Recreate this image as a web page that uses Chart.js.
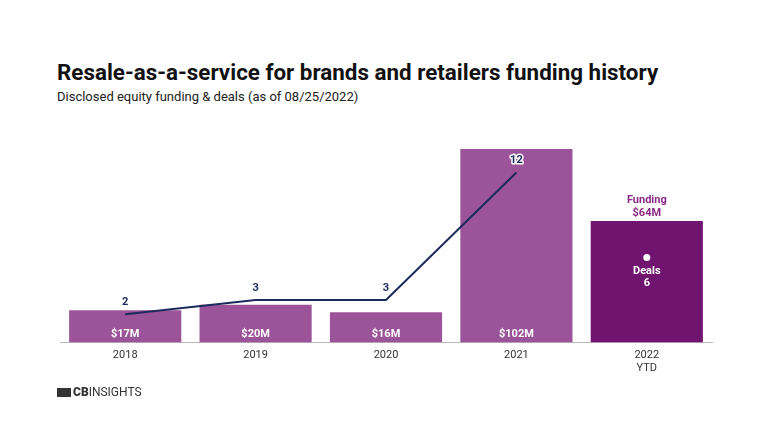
<!DOCTYPE html>
<html>
<head>
<meta charset="utf-8">
<script src="https://cdn.jsdelivr.net/npm/chart.js@4"></script>
<style>
    body { margin: 0; background: #ffffff; font-family: Roboto, sans-serif; }
    #wrap { position: relative; width: 768px; height: 432px; overflow: hidden; }
    #title { position: absolute; left: 57px; top: 59px; font-size: 22.4px; font-weight: 700; color: #111111; white-space: nowrap; }
    #subtitle { position: absolute; left: 57px; top: 89px; font-size: 13px; color: #222222; white-space: nowrap; }
    #logo { position: absolute; left: 57px; top: 385px; font-size: 12px; color: #333333; letter-spacing: 0px; }
    #logo b { font-weight: 900; }
    #logo .box { display: inline-block; width: 14px; height: 9px; background: #333333; margin-right: 2px; vertical-align: -1px; }
    canvas { position: absolute; left: 0; top: 0; }
</style>
</head>
<body>
<div id="wrap">
    <div id="title">Resale-as-a-service for brands and retailers funding history</div>
    <div id="subtitle">Disclosed equity funding &amp; deals (as of 08/25/2022)</div>
    <canvas id="fundingChart" width="768" height="432"></canvas>
    <div id="logo"><span class="box"></span><b>CB</b>INSIGHTS</div>
</div>
<script>
const years = [["2018"], ["2019"], ["2020"], ["2021"], ["2022", "YTD"]]
const fundingValues = [17, 20, 16, 102, 64]
const fundingLabels = ["$17M", "$20M", "$16M", "$102M", "$64M"]
const dealValues = [2, 3, 3, 12, 6]

const barColors = ["#9b5499", "#9b5499", "#9b5499", "#9b5499", "#701470"]
const lineColor = "#1c2a5c"

const labelPlugin = {
    id: "valueLabels",
    afterDatasetsDraw(chart) {
        const ctx = chart.ctx
        const bars = chart.getDatasetMeta(1).data
        const points = chart.getDatasetMeta(0).data
        ctx.save()
        ctx.textAlign = "center"
        ctx.textBaseline = "middle"
        ctx.font = "bold 11px Roboto"

        // funding labels inside bars
        bars.forEach((bar, i) => {
            if (i === bars.length - 1) {
                ctx.fillStyle = "#8a2a86"
                ctx.fillText("Funding", bar.x, bar.y - 21)
                ctx.fillText(fundingLabels[i], bar.x, bar.y - 8)
            } else {
                ctx.fillStyle = "#ffffff"
                ctx.fillText(fundingLabels[i], bar.x, chart.chartArea.bottom - 8)
            }
        })

        // deal labels
        points.forEach((pt, i) => {
            if (i === points.length - 1) {
                ctx.fillStyle = "#ffffff"
                ctx.fillText("Deals", pt.x, pt.y + 14)
                ctx.fillText(String(dealValues[i]), pt.x, pt.y + 26)
            } else {
                const y = pt.y - 12
                ctx.lineWidth = 3
                ctx.strokeStyle = "#ffffff"
                ctx.lineJoin = "round"
                if (i === 3) ctx.strokeText(String(dealValues[i]), pt.x, y)
                ctx.fillStyle = lineColor
                ctx.fillText(String(dealValues[i]), pt.x, y)
            }
        })
        ctx.restore()
    }
}

new Chart(document.getElementById("fundingChart"), {
    data: {
        labels: years,
        datasets: [
            {
                type: "line",
                label: "Deals",
                data: dealValues,
                yAxisID: "yDeals",
                borderColor: lineColor,
                borderWidth: 2,
                tension: 0,
                pointRadius: [0, 0, 0, 0, 3.5],
                pointBackgroundColor: "#ffffff",
                pointBorderWidth: 0,
                segment: {
                    borderColor: (c) => c.p1DataIndex === dealValues.length - 1 ? "transparent" : lineColor
                },
                order: 0
            },
            {
                type: "bar",
                label: "Funding",
                data: fundingValues,
                yAxisID: "yFunding",
                backgroundColor: barColors,
                borderWidth: 0,
                categoryPercentage: 1,
                barPercentage: 0.86,
                order: 1
            }
        ]
    },
    options: {
        responsive: false,
        animation: false,
        layout: {
            padding: { left: 60, right: 56, top: 130, bottom: 51 }
        },
        scales: {
            x: {
                grid: { display: false, drawTicks: false },
                border: { display: true, color: "#bbbbbb", width: 1 },
                ticks: {
                    color: "#333333",
                    padding: 6,
                    font: { size: 11, family: "Roboto" }
                }
            },
            yFunding: {
                display: false,
                min: 0,
                max: 112
            },
            yDeals: {
                display: false,
                min: 0,
                max: 15
            }
        },
        plugins: {
            legend: { display: false },
            tooltip: { enabled: false }
        }
    },
    plugins: [labelPlugin]
})
</script>
</body>
</html>
